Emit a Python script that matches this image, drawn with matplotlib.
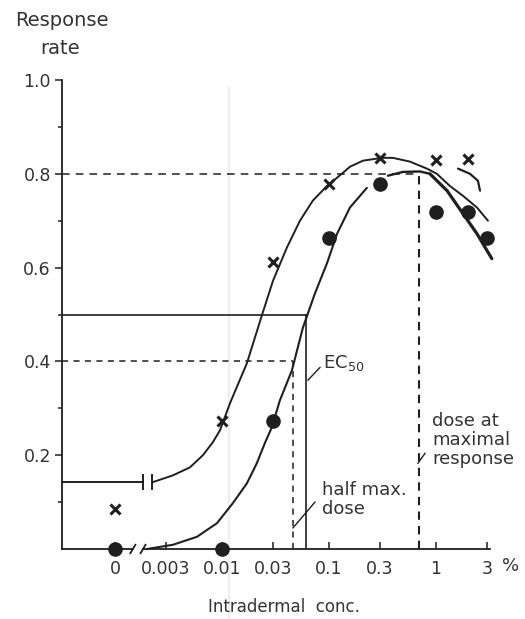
"""
Dose-response schematic: response rate vs intradermal concentration.
Output: out.png
"""

import numpy as np
import matplotlib
matplotlib.use("Agg")
import matplotlib.pyplot as plt
from matplotlib.lines import Line2D
from matplotlib.ticker import NullLocator

FONT = "DejaVu Sans"
C_INK = "#1f1f1f"     # curves / markers
C_TEXT = "#333333"    # labels
C_SCAN = "#eeeeee"    # faint vertical line of the scan

# ── data ────────────────────────────────────────────────────────────────────
ZERO_POS = 0.001      # the "0" dose is placed here on the log axis

x_ticks = [0, 0.003, 0.01, 0.03, 0.1, 0.3, 1, 3]
x_labels = ["0", "0.003", "0.01", "0.03", "0.1", "0.3", "1", "3"]
y_major = [0.2, 0.4, 0.6, 0.8, 1.0]
y_minor = [0.1, 0.3, 0.5, 0.7, 0.9]

cross_conc = [0, 0.01, 0.03, 0.1, 0.3, 1, 2]
cross_rate = [0.085, 0.272, 0.611, 0.779, 0.834, 0.830, 0.832]

dot_conc = [0, 0.01, 0.03, 0.1, 0.3, 1, 2, 3]
dot_rate = [0.0, 0.0, 0.272, 0.664, 0.779, 0.719, 0.719, 0.664]

# hand-drawn curves, traced point by point
upper_base_conc = [0.00032, 0.00183]
upper_base_rate = [0.142, 0.142]
upper_conc = [0.00222, 0.00348, 0.00502, 0.00664, 0.00824, 0.00958, 0.0119,
              0.0171, 0.0236, 0.030, 0.0405, 0.0536, 0.0708,
              0.0958, 0.135, 0.157, 0.208, 0.313, 0.396, 0.571, 0.824,
              1.02, 1.35, 1.79, 2.42, 3.06]
upper_rate = [0.142, 0.157, 0.174, 0.200, 0.228, 0.253, 0.311,
              0.396, 0.498, 0.572, 0.643, 0.700, 0.743,
              0.774, 0.802, 0.815, 0.828, 0.834, 0.834, 0.826, 0.811,
              0.800, 0.774, 0.753, 0.728, 0.700]

lower_conc = [0.00199, 0.00348, 0.00584, 0.00898, 0.01267, 0.0171, 0.0212,
              0.0252, 0.0293, 0.0348, 0.0451, 0.0571, 0.0740, 0.0958, 0.119,
              0.157, 0.226]
lower_rate = [0.0, 0.009, 0.026, 0.055, 0.098, 0.140, 0.183,
              0.226, 0.260, 0.317, 0.381, 0.472, 0.545, 0.609, 0.672,
              0.728, 0.770]
top_conc = [0.356, 0.492, 0.708, 0.879]
top_rate = [0.796, 0.804, 0.805, 0.800]
fall_conc = [0.879, 1.27, 1.79, 2.42, 3.33]
fall_rate = [0.800, 0.764, 0.715, 0.672, 0.619]

arc_conc = [1.61, 2.08, 2.47, 2.58]
arc_rate = [0.811, 0.800, 0.785, 0.764]

# reference doses
HALF_MAX_DOSE = 0.0461
EC50_DOSE = 0.0609
MAX_DOSE = 0.69


def zpos(c):
    c = np.asarray(c, dtype=float)
    return np.where(c == 0, ZERO_POS, c)


# ── figure / axes ───────────────────────────────────────────────────────────
W, H = 525, 619
fig = plt.figure(figsize=(W / 100, H / 100), dpi=100)
ax = fig.add_axes([62 / W, 1 - 549 / H, 428 / W, 469 / H])
ax.patch.set_visible(False)
XMIN, XMAX = 0.00032, 3.2
ax.set_xscale("log")
ax.set_xlim(XMIN, XMAX)
ax.set_ylim(0, 1.0)

# faint vertical line from the scanned page
fig.add_artist(Line2D([229 / W, 229 / W], [1 - 88 / H, 0], color=C_SCAN,
                      lw=1.6, zorder=0))

for side in ["top", "right", "bottom"]:
    ax.spines[side].set_visible(False)
ax.spines["left"].set_linewidth(1.3)
ax.spines["left"].set_color(C_INK)

# x axis drawn by hand with a break
kw = dict(color=C_INK, lw=1.3, clip_on=False, zorder=3)
ax.plot([XMIN, 0.00147], [0, 0], **kw)
ax.plot([0.00183, XMAX], [0, 0], **kw)
for bx in [0.00147, 0.00183]:
    ax.plot([bx * 10 ** (-2.5 / 107), bx * 10 ** (2.5 / 107)],
            [-0.009, 0.009], **kw)

# ticks
ax.set_xticks(zpos(x_ticks))
ax.set_xticklabels(x_labels)
ax.xaxis.set_minor_locator(NullLocator())
ax.tick_params(axis="x", direction="in", length=5, width=1.1, color=C_INK,
               pad=8, labelsize=12.5, labelcolor=C_TEXT)
ax.set_yticks(y_major)
ax.set_yticklabels([f"{v:.1f}" for v in y_major])
ax.set_yticks(y_minor, minor=True)
ax.tick_params(axis="y", which="major", direction="out", length=5, width=1.1,
               color=C_INK, pad=3, labelsize=12.5, labelcolor=C_TEXT)
ax.tick_params(axis="y", which="minor", direction="out", length=3, width=1.1,
               color=C_INK)

# ── reference lines ─────────────────────────────────────────────────────────
ax.plot([XMIN, HALF_MAX_DOSE], [0.4, 0.4], color=C_INK, lw=1.1,
        dashes=(4, 3.5), zorder=2)
ax.plot([HALF_MAX_DOSE, HALF_MAX_DOSE], [0, 0.4], color=C_INK, lw=1.1,
        dashes=(4, 3.5), zorder=2)
ax.plot([XMIN, EC50_DOSE], [0.5, 0.5], color=C_INK, lw=1.2, zorder=2)
ax.plot([EC50_DOSE, EC50_DOSE], [0, 0.5], color=C_INK, lw=1.2, zorder=2)
ax.plot([XMIN, MAX_DOSE], [0.8, 0.8], color=C_INK, lw=1.1,
        dashes=(5, 4), zorder=2)
ax.plot([MAX_DOSE, MAX_DOSE], [0, 0.8], color=C_INK, lw=1.5,
        dashes=(4, 3), zorder=2)

# ── curves ──────────────────────────────────────────────────────────────────
CK = dict(color=C_INK, zorder=3, clip_on=False, solid_joinstyle="round",
          solid_capstyle="round")
ax.plot(upper_base_conc, upper_base_rate, lw=1.4, **CK)
ax.plot(upper_conc, upper_rate, lw=1.4, **CK)
for bx in [0.00183, 0.00222]:
    ax.plot([bx, bx], [0.127, 0.157], color=C_INK, lw=1.4, zorder=3)
ax.plot(lower_conc, lower_rate, lw=1.5, **CK)
ax.plot(top_conc, top_rate, lw=1.7, **CK)
ax.plot(fall_conc, fall_rate, lw=2.3, **CK)
ax.plot(arc_conc, arc_rate, lw=1.6, **CK)

# ── data points ─────────────────────────────────────────────────────────────
ax.plot(zpos(cross_conc), cross_rate, ls="none", marker="x", ms=6.5,
        mew=2.2, color=C_INK, zorder=5, clip_on=False)
ax.plot(zpos(dot_conc), dot_rate, ls="none", marker="o", ms=9.5,
        color=C_INK, zorder=5, clip_on=False)

# ── annotations ─────────────────────────────────────────────────────────────
TXT = dict(fontsize=13, color=C_TEXT, fontfamily=FONT)
ax.plot([0.0636, 0.0824], [0.360, 0.387], color=C_INK, lw=1.0)
ax.text(0.0878, 0.396, "EC$_{50}$", ha="left", va="center", **TXT)

ax.plot([HALF_MAX_DOSE, 0.074], [0.045, 0.100], color=C_INK, lw=1.0)
ax.text(0.086, 0.106, "half max.\ndose", ha="left", va="center",
        linespacing=1.05, **TXT)

ax.plot([0.679, 0.79], [0.183, 0.204], color=C_INK, lw=1.0)
ax.text(0.92, 0.232, "dose at\nmaximal\nresponse", ha="left", va="center",
        linespacing=1.05, **TXT)

fig.text(511 / W, 1 - 566 / H, "%", ha="center", va="center", **TXT)
fig.text(62 / W, 1 - 20 / H, "Response", ha="center", va="center",
         fontsize=14, color=C_TEXT, fontfamily=FONT)
fig.text(60 / W, 1 - 49 / H, "rate", ha="center", va="center",
         fontsize=14, color=C_TEXT, fontfamily=FONT)
fig.text(284 / W, 1 - 607 / H, "Intradermal  conc.", ha="center",
         va="center", fontsize=12, color=C_TEXT, fontfamily=FONT)

fig.savefig("out.png", dpi=100, facecolor="white")
